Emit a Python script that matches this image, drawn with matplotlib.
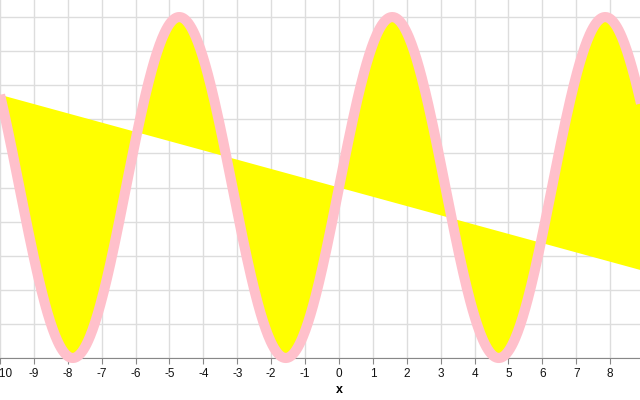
import numpy as np
import matplotlib.pyplot as plt
import matplotlib.transforms as mtransforms

# curve: y = amplitude * sin(x) over x in [-10, 10]
x_start, x_end = -10, 10
amplitude = 5
x = np.linspace(x_start, x_end, 800)
y = amplitude * np.sin(x)

x_ticks = list(range(-10, 9))

plt.rcParams['font.family'] = ['Liberation Sans', 'DejaVu Sans']
plt.rcParams['axes.unicode_minus'] = False

fig = plt.figure(figsize=(6.4, 4.0), dpi=100)
ax = fig.add_axes([0, 0.105, 1, 0.895])

# closed path of the curve -> filled polygon
ax.fill(x, y, color='#ffff00', zorder=2, lw=0)
ax.plot(x, y, color='#ffc0cb', lw=7.3, solid_capstyle='butt', zorder=3, clip_on=False)

ax.set_xlim(-9.895, 8.88)
ax.set_ylim(-5, 5.5)
ax.set_xticks(x_ticks)
ax.set_yticks(range(-5, 6))
ax.grid(True, color='#dddddd', lw=1)
ax.set_axisbelow(True)

for s in ['top', 'left', 'right']:
    ax.spines[s].set_visible(False)
ax.spines['bottom'].set_color('#888888')
ax.spines['bottom'].set_zorder(1)
ax.tick_params(axis='x', length=4, color='#888888', labelsize=8.5, pad=3, labelcolor='#111111')
ax.tick_params(axis='y', left=False, labelleft=False)

# first label sits a bit to the right in the reference
first = ax.get_xticklabels()[0]
first.set_transform(first.get_transform() + mtransforms.ScaledTranslation(4 / 100, 0, fig.dpi_scale_trans))

ax.text(0, -0.09, 'x', transform=ax.get_xaxis_transform(), ha='center', va='center',
        fontsize=9, fontweight='bold')

fig.savefig('out.png', dpi=100)
